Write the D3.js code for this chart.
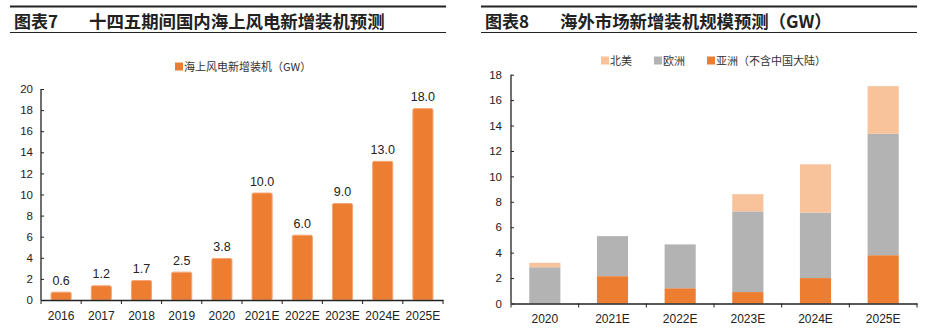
<!DOCTYPE html>
<html>
<head>
<meta charset="utf-8">
<script src="https://cdn.jsdelivr.net/npm/d3@7/dist/d3.min.js"></script>
<style>
body { margin: 0; background: #fff; }
svg { display: block; }
</style>
</head>
<body>
<div id="svgcontainer"></div>
<script>
// left chart data
const years1 = ["2016", "2017", "2018", "2019", "2020", "2021E", "2022E", "2023E", "2024E", "2025E"];
const offshore = [0.6, 1.2, 1.7, 2.5, 3.8, 10.0, 6.0, 9.0, 13.0, 18.0];
const ticks1 = [0, 2, 4, 6, 8, 10, 12, 14, 16, 18, 20];

// right chart data
const years2 = ["2020", "2021E", "2022E", "2023E", "2024E", "2025E"];
const asia = [0, 2.15, 1.2, 0.9, 2.0, 3.8];
const europe = [2.85, 3.15, 3.45, 6.35, 5.15, 9.55];
const northAm = [0.35, 0, 0, 1.35, 3.8, 3.75];
const ticks2 = [0, 2, 4, 6, 8, 10, 12, 14, 16, 18];

const ORANGE = "#ED7D31", GREY = "#B3B3B3", PEACH = "#F8C29B";
const numFont = "'Liberation Sans', Arial, sans-serif";
const cjkFont = "'Noto Sans CJK SC', sans-serif";

var svg = d3.select("#svgcontainer")
    .append("svg")
    .attr("width", 930)
    .attr("height", 329)

// title block
function title(x0, x1, num, txt) {
    let g = svg.append('g')
    g.append('line').attr('x1', x0).attr('x2', x1).attr('y1', 6.5).attr('y2', 6.5)
        .attr('stroke', '#222').attr('stroke-width', 1.8)
    g.append('line').attr('x1', x0).attr('x2', x1).attr('y1', 32.5).attr('y2', 32.5)
        .attr('stroke', '#222').attr('stroke-width', 1.2)
    g.append('text').attr('x', x0 + 4).attr('y', 27.5).text(num)
        .attr('font-family', cjkFont).attr('font-weight', 'bold').attr('font-size', 17).attr('fill', '#222')
    g.append('text').attr('x', x0 + 79).attr('y', 27.5).text(txt)
        .attr('font-family', cjkFont).attr('font-weight', 'bold').attr('font-size', 17.4).attr('fill', '#222')
}
title(10, 446, "图表7", "十四五期间国内海上风电新增装机预测")
title(481, 917, "图表8", "海外市场新增装机规模预测（GW）")

function legendItem(x, y, color, label) {
    svg.append('rect').attr('x', x).attr('y', y - 4.5).attr('width', 8).attr('height', 8).attr('fill', color)
    svg.append('text').attr('x', x + 9).attr('y', y + 4).text(label)
        .attr('font-family', cjkFont).attr('font-size', 11).attr('fill', '#333')
}

function drawAxes(g, x, y, ticks, left, right, base, pad) {
    let ya = d3.axisLeft(y).tickValues(ticks).tickSize(-3).tickPadding(pad)
    let yg = g.append('g').attr('transform', `translate(${left},0)`).call(ya)
    yg.select('.domain').remove()
    yg.append('line').attr('x1', 0).attr('x2', 0).attr('y1', y(ticks[ticks.length - 1])).attr('y2', base)
        .attr('stroke', '#222').attr('stroke-width', 1.3)
    yg.selectAll('.tick line').attr('stroke', '#222')
    yg.selectAll('text').attr('font-family', numFont).attr('font-size', 11.5).attr('fill', '#222')

    let xa = d3.axisBottom(x).tickSize(0).tickPadding(11)
    let xg = g.append('g').attr('transform', `translate(0,${base})`).call(xa)
    xg.select('.domain').attr('stroke', '#222').attr('stroke-width', 1.5)
    xg.selectAll('text').attr('font-family', numFont).attr('font-size', 12).attr('fill', '#222')
    let edges = d3.range(x.domain().length + 1).map(i => left + i * x.step())
    xg.selectAll('.edge').data(edges).join('line')
        .attr('x1', d => d).attr('x2', d => d).attr('y1', 0).attr('y2', 4)
        .attr('stroke', '#222').attr('stroke-width', 1)
}

// ---- left chart
let base1 = 300
let x1 = d3.scaleBand().domain(years1).range([41, 443]).paddingInner(0.5).paddingOuter(0.25)
let y1 = d3.scaleLinear().domain([0, 20]).range([base1, 89])
let g1 = svg.append('g')
g1.selectAll('.bar').data(offshore).join('rect')
    .attr('x', (d, i) => x1(years1[i]))
    .attr('y', d => y1(d) - 1.5)
    .attr('width', x1.bandwidth())
    .attr('height', d => base1 - y1(d) + 1.5)
    .attr('rx', 1.5)
    .attr('fill', ORANGE)
    .attr('stroke', '#F6A574').attr('stroke-width', 1)
g1.selectAll('.lbl').data(offshore).join('text')
    .attr('x', (d, i) => x1(years1[i]) + x1.bandwidth() / 2)
    .attr('y', d => y1(d) - 9)
    .attr('text-anchor', 'middle')
    .attr('font-family', numFont).attr('font-size', 12.5).attr('fill', '#222')
    .text(d => d.toFixed(1))
drawAxes(g1, x1, y1, ticks1, 41, 443, base1, 8)
legendItem(175, 67, ORANGE, "海上风电新增装机（GW）")

// ---- right chart
let base2 = 303.5
let x2 = d3.scaleBand().domain(years2).range([511, 917]).paddingInner(0.54).paddingOuter(0.27)
let y2 = d3.scaleLinear().domain([0, 18]).range([base2, 74.7])
let table = years2.map((c, i) => ({cat: c, asia: asia[i], europe: europe[i], na: northAm[i]}))
let stack = d3.stack().keys(["asia", "europe", "na"])(table)
let colors = {asia: ORANGE, europe: GREY, na: PEACH}
let g2 = svg.append('g')
g2.selectAll('.layer').data(stack).join('g')
    .attr('fill', s => colors[s.key])
    .selectAll('rect').data(s => s.filter(d => d[1] - d[0] > 0)).join('rect')
    .attr('x', d => x2(d.data.cat))
    .attr('y', d => y2(d[1]))
    .attr('width', x2.bandwidth())
    .attr('height', d => y2(d[0]) - y2(d[1]))
drawAxes(g2, x2, y2, ticks2, 511, 917, base2, 9)
legendItem(601, 61, PEACH, "北美")
legendItem(654, 61, GREY, "欧洲")
legendItem(707, 61, ORANGE, "亚洲（不含中国大陆）")
</script>
</body>
</html>
